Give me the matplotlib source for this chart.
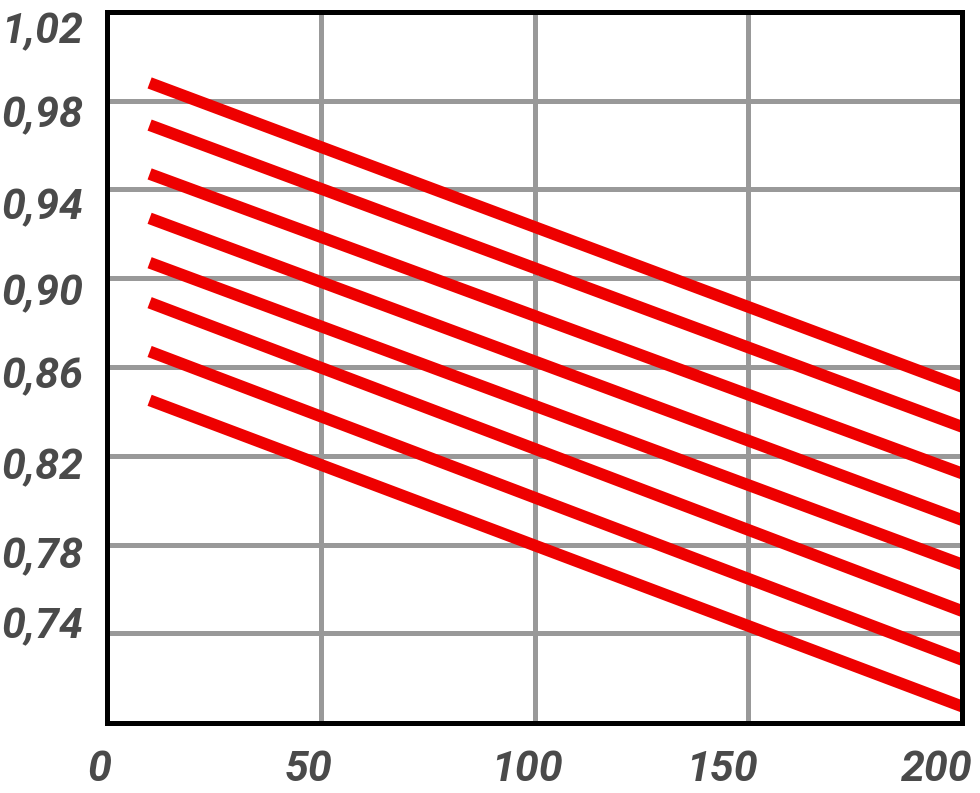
import matplotlib
matplotlib.use("Agg")
import matplotlib.pyplot as plt

# Data
x_range = [10, 200]
start_vals = [0.988, 0.969, 0.947, 0.927, 0.907, 0.889, 0.867, 0.845]
end_vals = [0.851, 0.833, 0.812, 0.791, 0.771, 0.750, 0.728, 0.707]

x_ticks = [0, 50, 100, 150, 200]
x_labels = ["0", "50", "100", "150", "200"]
y_ticks = [1.02, 0.98, 0.94, 0.90, 0.86, 0.82, 0.78, 0.74]
y_labels = ["1,02", "0,98", "0,94", "0,90", "0,86", "0,82", "0,78", "0,74"]

# label placement (pixels), the labels in the original are hand placed
x_shift = [-8, -12, -8, -27, -26]
y_base = [31, 27, 30, 27, 21, 24, 24, 5]

fig = plt.figure(figsize=(9.8, 7.93), dpi=100)
ax = fig.add_axes([0.109, 0.088, 0.873, 0.897])

for s, e in zip(start_vals, end_vals):
    ax.plot(x_range, [s, e], color="#ee0000", lw=8.5, solid_capstyle="butt", zorder=3)

ax.set_xlim(0, 200)
ax.set_ylim(0.6995, 1.02)
ax.set_xticks(x_ticks)
ax.set_yticks(y_ticks)
ax.set_xticklabels([])
ax.set_yticklabels([])
ax.tick_params(length=0)

ax.grid(True, color="#999999", lw=3.6, zorder=0)
ax.set_axisbelow(True)
for sp in ax.spines.values():
    sp.set_linewidth(3.6)
    sp.set_color("black")
    sp.set_zorder(5)

fnt = dict(family=["Roboto", "DejaVu Sans"], fontweight="bold", fontstyle="italic",
           fontsize=31, color="#4a4a4a", annotation_clip=False)

for v, lab, dx in zip(x_ticks, x_labels, x_shift):
    ax.annotate(lab, xy=(v, 0), xycoords=("data", "axes fraction"),
                xytext=(dx, -58), textcoords="offset pixels",
                ha="center", va="baseline", **fnt)

for v, lab, dy in zip(y_ticks, y_labels, y_base):
    ax.annotate(lab, xy=(0, v), xycoords=("axes fraction", "data"),
                xytext=(-24, -dy), textcoords="offset pixels",
                ha="right", va="baseline", **fnt)

fig.savefig("out.png", dpi=100)
